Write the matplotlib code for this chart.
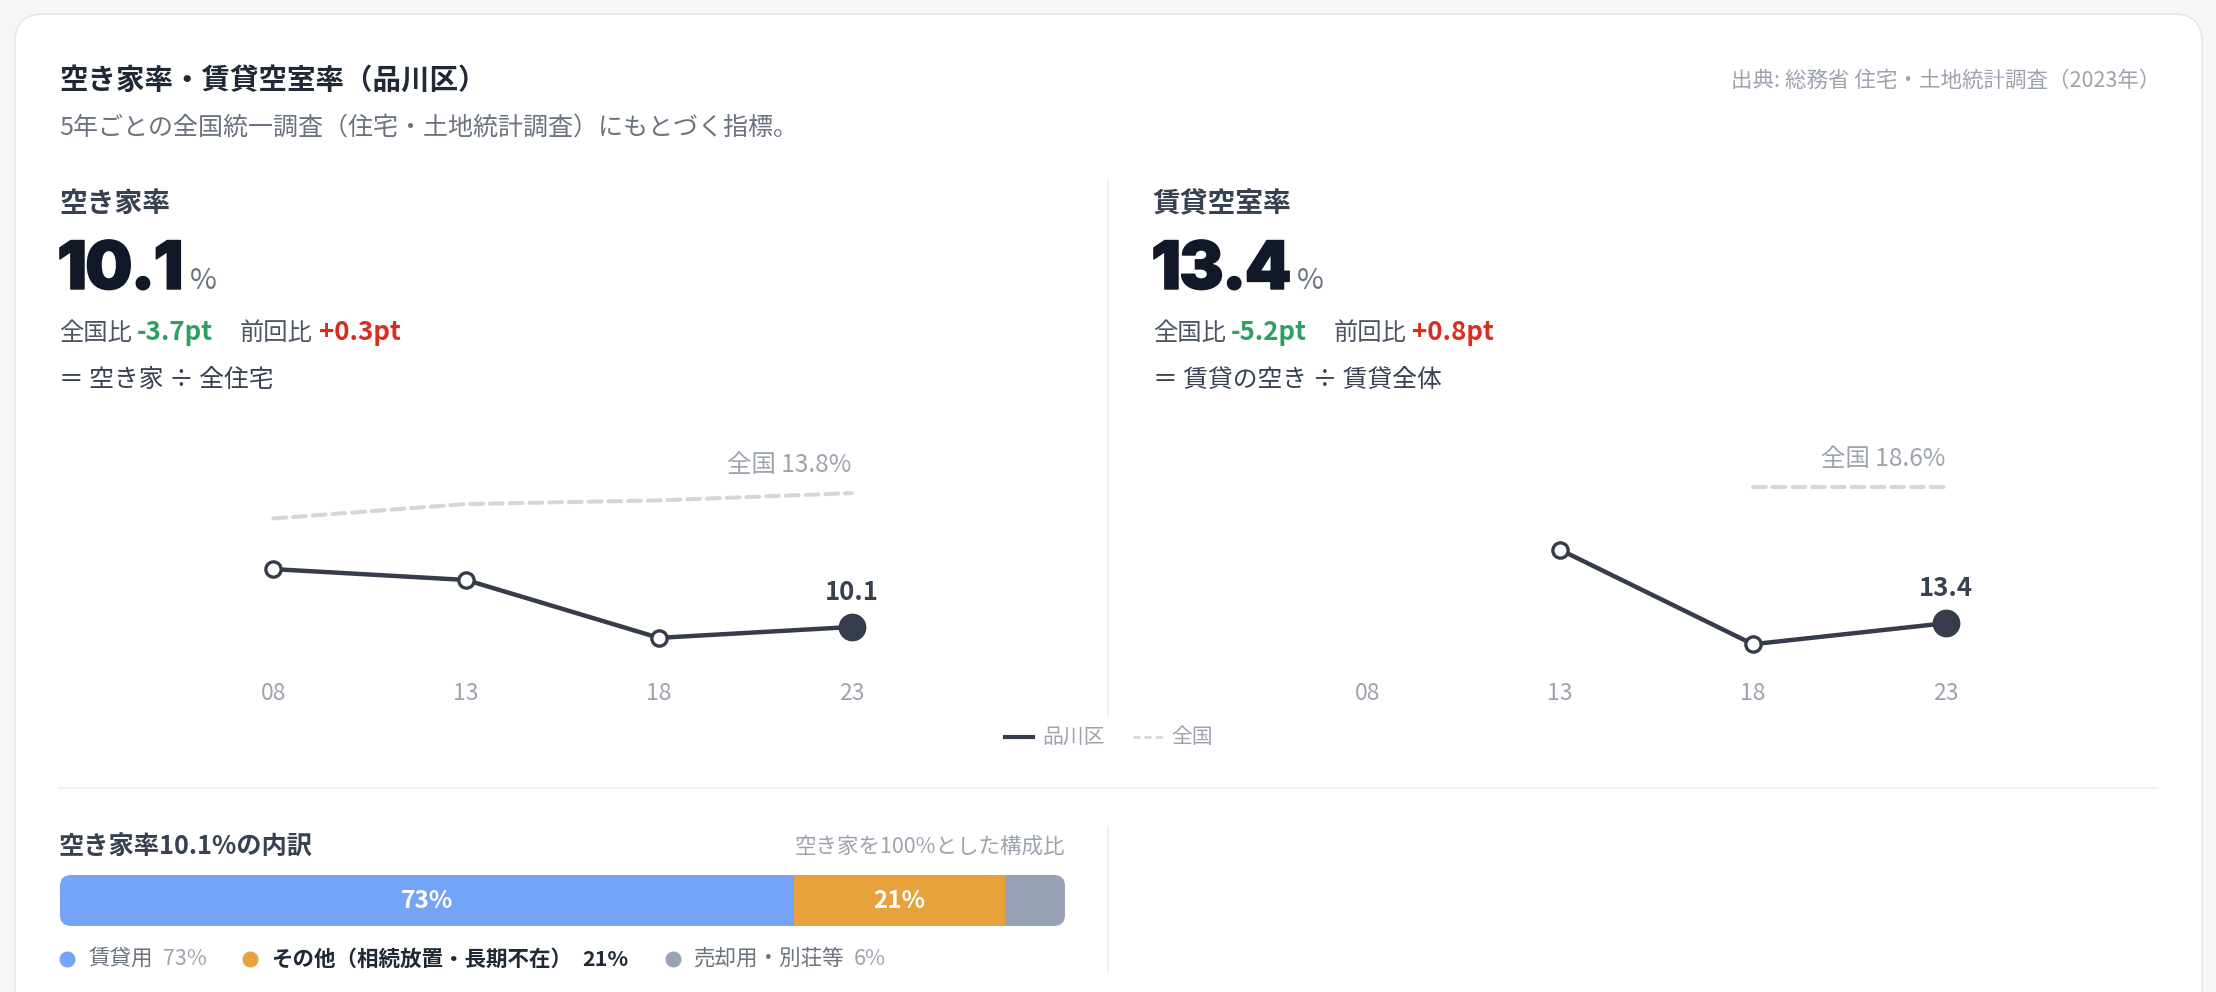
import matplotlib.pyplot as plt
from matplotlib.patches import FancyBboxPatch
import matplotlib.patheffects as pe
import numpy as np

plt.rcParams['font.family'] = ['Noto Sans CJK JP', 'DejaVu Sans']

# data
years = ['08', '13', '18', '23']
akiya_rate = [11.7, 11.4, 9.8, 10.1]
akiya_national = [13.1, 13.5, 13.6, 13.8]
chintai_rate = [np.nan, 16.2, 12.6, 13.4]
chintai_national = [np.nan, np.nan, 18.6, 18.6]

breakdown_labels = ['賃貸用', 'その他（相続放置・長期不在）', '売却用・別荘等']
breakdown_share = [73, 21, 6]
breakdown_colors = ['#74a4f6', '#e8a23c', '#97a3b4']

DARK = '#363c4b'
NAT = '#d3d6dc'
GRAY = '#9ca3af'
MID = '#6b7280'

W, H = 2216, 992
fig = plt.figure(figsize=(W / 100, H / 100), dpi=100)
fig.patch.set_facecolor('#f5f6f8')

bg = fig.add_axes([0, 0, 1, 1])
bg.set_xlim(0, W)
bg.set_ylim(H, 0)
bg.axis('off')
bg.add_patch(FancyBboxPatch((15, 14), 2187, 1060, boxstyle='round,pad=0,rounding_size=28',
                            fc='white', ec='#e6e8eb', lw=1.2))

renderer = fig.canvas.get_renderer()


def right_of(t):
    bb = t.get_window_extent(renderer)
    return bg.transData.inverted().transform((bb.x1, bb.y0))[0]


def px_axes(x0, y0, x1, y1):
    return fig.add_axes([x0 / W, 1 - y1 / H, (x1 - x0) / W, (y1 - y0) / H])


# header
bg.text(59, 81, '空き家率・賃貸空室率（品川区）', fontsize=20.5, fontweight='bold', color='#1f2937', va='center')
bg.text(59, 128, '5年ごとの全国統一調査（住宅・土地統計調査）にもとづく指標。', fontsize=18, color=MID, va='center')
bg.text(2160, 81, '出典: 総務省 住宅・土地統計調査（2023年）', fontsize=15.5, color=GRAY, va='center', ha='right')

# dividers
bg.plot([1108, 1108], [181, 715], color='#eceef1', lw=1.2)
bg.plot([1108, 1108], [827, 972], color='#eceef1', lw=1.2)
bg.plot([59, 2158], [788, 788], color='#eceef1', lw=1.2)


def panel(x0, title, vals, nat, formula):
    vals = np.array(vals, dtype=float)
    nat = np.array(nat, dtype=float)
    cur = vals[-1]
    d_nat = cur - nat[-1]
    d_prev = cur - vals[-2]

    bg.text(x0, 204, title, fontsize=20, fontweight='bold', color='#374151', va='center')
    # big number, drawn glyph by glyph
    x = x0 - 2
    for ch in f'{cur:.1f}':
        t = bg.text(x, 289, ch, fontsize=48, family='Inter', fontweight='black',
                    color='#111827', va='baseline',
                    path_effects=[pe.withStroke(linewidth=1.0, foreground='#111827')])
        x = right_of(t) - 2
    bg.text(x + 8, 289, '%', fontsize=21, color=MID, va='baseline')

    t = bg.text(x0, 333, '全国比', fontsize=17.5, color='#4b5563', va='center')
    t = bg.text(right_of(t) + 5, 333, f'{d_nat:+.1f}pt', fontsize=18.6, fontweight='bold',
                color='#2f9e63', va='center')
    t = bg.text(right_of(t) + 27, 333, '前回比', fontsize=17.5, color='#4b5563', va='center')
    bg.text(right_of(t) + 6, 333, f'{d_prev:+.1f}pt', fontsize=18.6, fontweight='bold',
            color='#d92d20', va='center')
    bg.text(x0, 380, formula, fontsize=17.8, color='#374151', va='center')

    # trend chart
    ax = px_axes(x0 + 214 - 96, 470, x0 + 214 + 3 * 193 + 96, 661)
    xs = np.arange(len(years))
    lo = np.nanmin(np.concatenate([vals, nat]))
    hi = np.nanmax(np.concatenate([vals, nat]))
    ax.set_xlim(-0.5, len(years) - 0.5)
    ax.set_ylim(lo - 0.64, hi + 0.64)
    ax.plot(xs, nat, color=NAT, lw=2.9, dashes=(3.2, 1.7), dash_capstyle='round')
    ax.plot(xs, vals, color=DARK, lw=3.2, zorder=3)
    ax.plot(xs[:-1], vals[:-1], 'o', ms=11, mfc='white', mec=DARK, mew=2.4, zorder=4)
    ax.plot(xs[-1], cur, 'o', ms=19, color=DARK, zorder=5)
    ax.annotate(f'{cur:.1f}', (xs[-1], cur), xytext=(0, 25), textcoords='offset points',
                ha='center', va='center', fontsize=18.5, fontweight='bold', color='#374151')
    ax.annotate(f'全国 {nat[-1]:.1f}%', (xs[-1], nat[-1]), xytext=(0, 20), textcoords='offset points',
                ha='right', va='center', fontsize=17.6, color=GRAY)
    ax.set_xticks(xs, years)
    ax.tick_params(length=0, pad=15, labelsize=16.5, labelcolor=GRAY)
    ax.set_yticks([])
    for s in ax.spines.values():
        s.set_visible(False)
    ax.patch.set_alpha(0)


fig.canvas.draw()
panel(59, '空き家率', akiya_rate, akiya_national, '＝ 空き家 ÷ 全住宅')
panel(1153, '賃貸空室率', chintai_rate, chintai_national, '＝ 賃貸の空き ÷ 賃貸全体')

# chart legend
bg.plot([1005, 1033], [737, 737], color=DARK, lw=3)
bg.text(1042, 737, '品川区', fontsize=15, color=GRAY, va='center')
bg.plot([1133, 1163], [737, 737], color=NAT, lw=2, dashes=(2.5, 1.5))
bg.text(1171, 737, '全国', fontsize=15, color=GRAY, va='center')

# breakdown
bg.text(59, 847, f'空き家率{akiya_rate[-1]:.1f}%の内訳', fontsize=18.2, fontweight='bold',
        color='#374151', va='center')
bg.text(1065, 847, '空き家を100%とした構成比', fontsize=15.5, color=GRAY, va='center', ha='right')

bx0, by0, bx1, by1 = 60, 875, 1065, 926
bax = px_axes(bx0, by0, bx1, by1)
clip = FancyBboxPatch((bx0, by0), bx1 - bx0, by1 - by0, boxstyle='round,pad=0,rounding_size=11',
                      transform=bg.transData, fc='none', ec='none')
lefts = np.concatenate([[0], np.cumsum(breakdown_share)[:-1]])
bars = bax.barh(0, breakdown_share, left=lefts, height=1, color=breakdown_colors)
for b in bars:
    b.set_clip_path(clip)
for l, w in zip(lefts, breakdown_share):
    if w >= 10:
        bax.text(l + w / 2, 0, f'{w}%', ha='center', va='center', color='white',
                 fontsize=17.5, fontweight='bold')
bax.set_xlim(0, sum(breakdown_share))
bax.set_ylim(-0.5, 0.5)
bax.axis('off')

fig.canvas.draw()
lx = 67
for i, (lab, share, col) in enumerate(zip(breakdown_labels, breakdown_share, breakdown_colors)):
    bg.plot(lx, 959, 'o', ms=10.5, color=col)
    hl = i == 1
    t = bg.text(lx + 21, 959, lab, fontsize=15.5, va='center',
                color='#1f2937' if hl else MID, fontweight='bold' if hl else 'normal')
    t = bg.text(right_of(t) + 10, 959, f'{share}%', fontsize=15.5, va='center',
                color='#1f2937' if hl else GRAY, fontweight='bold' if hl else 'normal')
    lx = right_of(t) + 44

fig.savefig('out.png', dpi=100, facecolor=fig.get_facecolor())
